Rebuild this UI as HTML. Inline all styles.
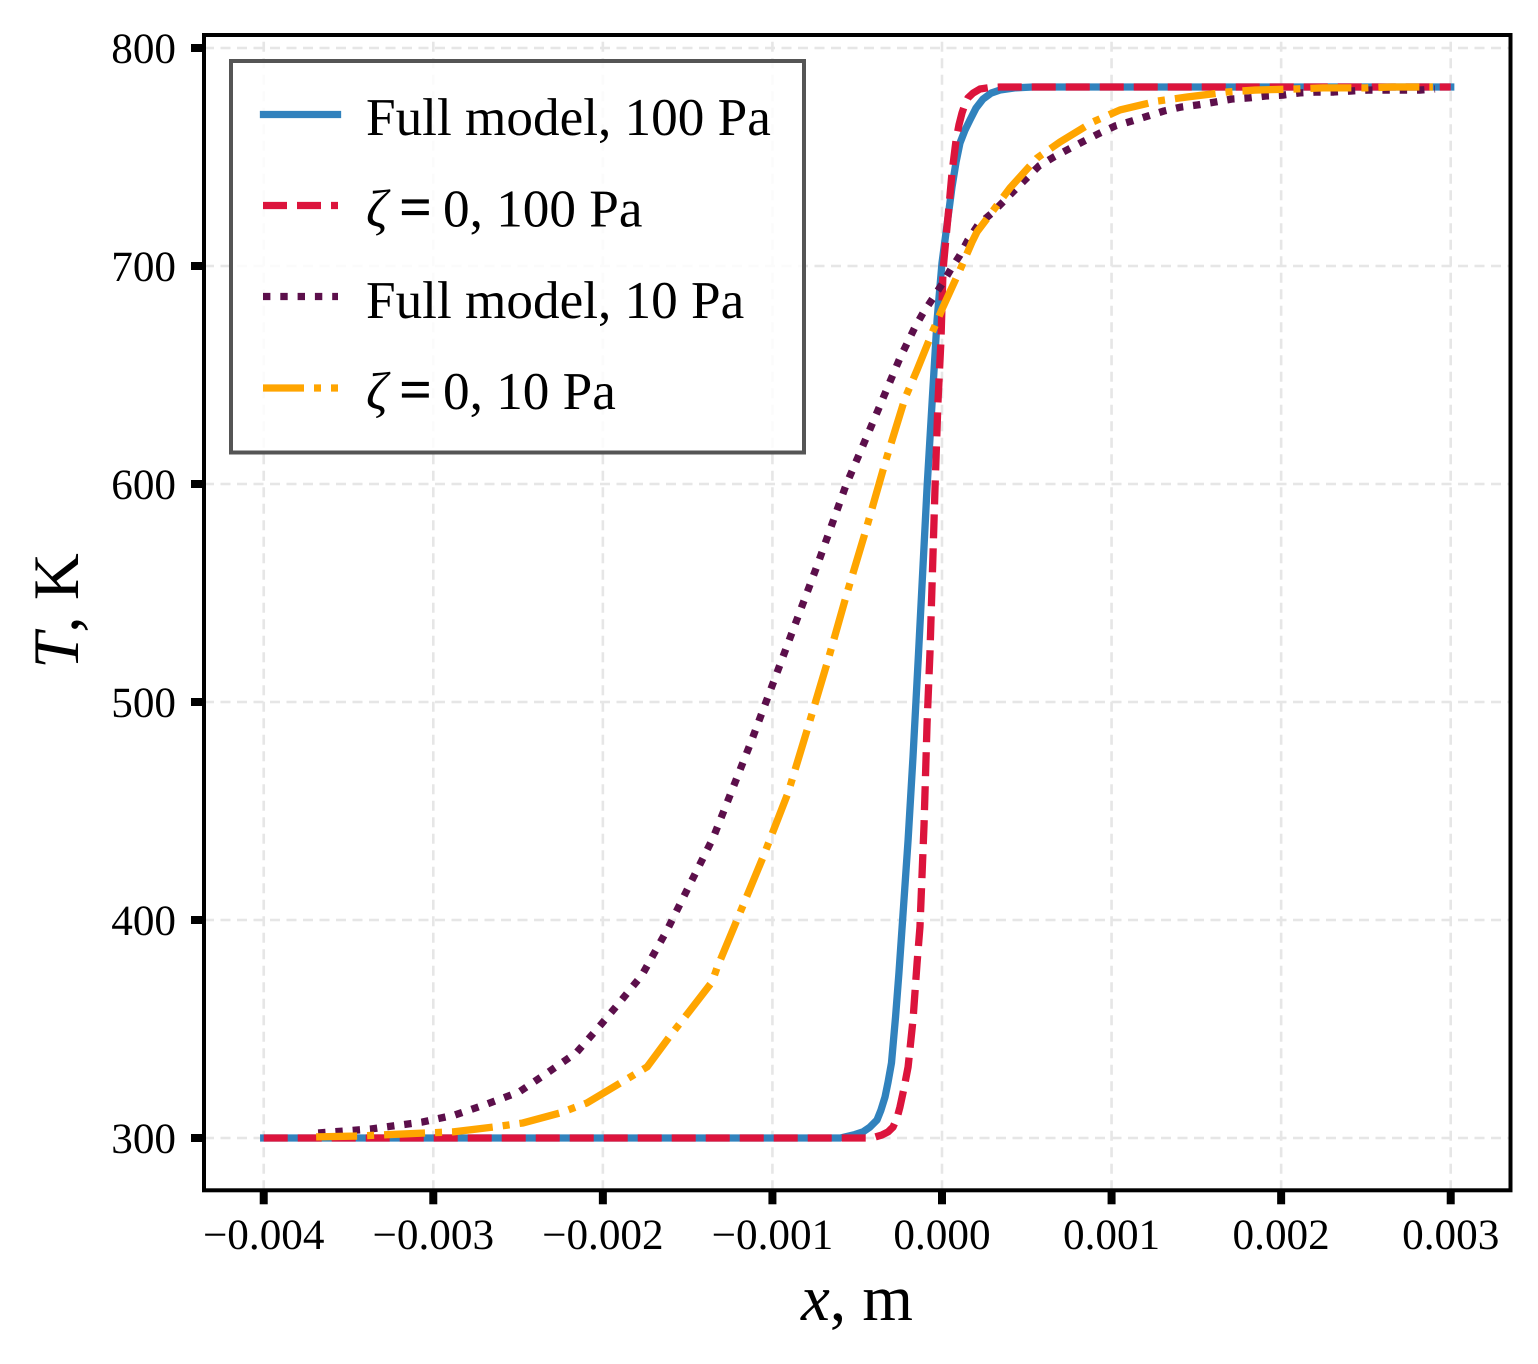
<!DOCTYPE html>
<html lang="en">
<head>
<meta charset="utf-8">
<title>Temperature profile T versus x</title>
<style>
  html, body { margin: 0; padding: 0; background: #ffffff; }
  svg { display: block; }
  text { font-family: "Liberation Serif", "DejaVu Serif", serif; fill: #000000; text-rendering: geometricPrecision; }
  .tick-label { font-size: 43.2px; }
  .legend-label { font-size: 53.2px; }
  .axis-title { font-size: 65px; }
  .legend-equals { font-size: 58px; font-weight: bold; }
</style>
</head>
<body>
<svg id="chart" xmlns="http://www.w3.org/2000/svg" width="1538" height="1364" viewBox="0 0 1538 1364">
  <rect x="0" y="0" width="1538" height="1364" fill="#ffffff"/>
  <g id="grid"></g>
  <g id="series"></g>
  <g id="axes"></g>

  <g>
    <rect x="231" y="61" width="573" height="391.5" fill="#ffffff" fill-opacity="0.82" stroke="#555555" stroke-width="4"/>
    <line x1="263.5" y1="114.5" x2="337.5" y2="114.5" stroke="#3182bd" stroke-width="7.3" stroke-linecap="square"/>
    <text class="legend-label" x="366" y="135">Full model, 100 Pa</text>
    <line x1="263" y1="205.5" x2="338" y2="205.5" stroke="#dc143c" stroke-width="7.3" stroke-dasharray="24 10"/>
    <text class="legend-label" y="226.5"><tspan x="366" font-style="italic">ζ</tspan><tspan x="399" class="legend-equals">=</tspan><tspan x="443">0, 100 Pa</tspan></text>
    <line x1="263" y1="296.5" x2="338" y2="296.5" stroke="#5c0f4b" stroke-width="7.3" stroke-dasharray="7.4 9.9"/>
    <text class="legend-label" x="366" y="318">Full model, 10 Pa</text>
    <line x1="263" y1="388" x2="338" y2="388" stroke="#ffa500" stroke-width="7.3" stroke-dasharray="41 10 7 10"/>
    <text class="legend-label" y="409"><tspan x="366" font-style="italic">ζ</tspan><tspan x="399" class="legend-equals">=</tspan><tspan x="443">0, 10 Pa</tspan></text>
  </g>

  <text class="axis-title" x="857" y="1320" text-anchor="middle"><tspan font-style="italic">x</tspan>, m</text>
  <text class="axis-title" transform="translate(78 611) rotate(-90)" text-anchor="middle"><tspan font-style="italic">T</tspan>, K</text>
</svg>

<script>
const xTickValues = [-0.004, -0.003, -0.002, -0.001, 0, 0.001, 0.002, 0.003];
const xTickLabels = ["−0.004", "−0.003", "−0.002", "−0.001", "0.000", "0.001", "0.002", "0.003"];
const yTickValues = [300, 400, 500, 600, 700, 800];
const yTickLabels = ["300", "400", "500", "600", "700", "800"];

const full100X = [-0.004, -0.0006, -0.00056, -0.000513, -0.000466, -0.000425, -0.000383, -0.00036, -0.000336, -0.000318, -0.000298, -0.000274, -0.000254, -0.000227, -0.0002, -0.000171, -0.000139, -0.000088, -0.000053, -0.000029, 0, 0.000059, 0.000083, 0.000106, 0.000136, 0.000165, 0.000201, 0.000242, 0.000289, 0.000342, 0.00043, 0.000537, 0.003];
const full100T = [300, 300, 300.7, 301.6, 302.8, 305, 308.3, 312.8, 318.8, 325.7, 334.4, 355.5, 375.7, 406, 436.7, 474.8, 521.6, 598.6, 644.5, 675.2, 701.4, 736.2, 747.7, 756.4, 762.4, 767, 772.5, 776.6, 779.3, 780.7, 781.7, 782.1, 782.1];

const zeta100X = [-0.004, -0.000413, -0.000354, -0.000318, -0.000289, -0.000265, -0.000248, -0.000224, -0.0002, -0.000171, -0.000147, -0.00013, -0.000106, -0.000088, -0.000071, -0.000041, -0.000024, -0.000006, 0.000006, 0.000024, 0.000041, 0.000059, 0.000083, 0.0001, 0.000118, 0.000136, 0.000153, 0.000183, 0.000224, 0.000283, 0.000342, 0.003];
const zeta100T = [300, 300, 301.4, 302.8, 305, 309.2, 314.2, 322.9, 332.6, 354.1, 380.3, 396.8, 443.6, 490.4, 522.5, 598.6, 637.2, 666.1, 698.2, 713.3, 727.1, 742.7, 757.8, 764.7, 770.2, 774.3, 777.1, 779.3, 781.2, 781.9, 782.1, 782.1];

const full10X = [-0.003679, -0.003373, -0.003066, -0.002871, -0.002683, -0.002494, -0.002329, -0.002158, -0.002028, -0.001899, -0.001769, -0.001621, -0.001486, -0.00135, -0.001238, -0.001126, -0.00102, -0.000914, -0.000737, -0.000566, -0.000407, -0.000248, -0.000159, -0.000112, -0.000053, 0, 0.000053, 0.000106, 0.000153, 0.000212, 0.000295, 0.00036, 0.00043, 0.000501, 0.000572, 0.00066, 0.000749, 0.000837, 0.000932, 0.00102, 0.00112, 0.001215, 0.001309, 0.001409, 0.001509, 0.00161, 0.00171, 0.00181, 0.00191, 0.002011, 0.002111, 0.002211, 0.002311, 0.002417, 0.002512, 0.002618, 0.002718, 0.002818, 0.002907];
const full10T = [302.3, 304.1, 307.3, 310.6, 315.6, 321.1, 329.8, 339, 350.5, 362.4, 374.8, 395.4, 416.5, 437.6, 459.6, 481.7, 503.7, 525.7, 562.4, 599.5, 628.4, 657.8, 672, 678.4, 685.3, 691.7, 698.6, 705, 711.9, 718.8, 724.3, 729.4, 734.9, 740.4, 745.9, 750, 753.7, 757.3, 761, 764.2, 766.5, 768.8, 771.1, 772.9, 773.9, 775.2, 776.6, 777.1, 778, 778.4, 779.4, 779.8, 779.8, 780.3, 780.7, 780.7, 780.7, 780.7, 781.2];

const zeta10X = [-0.003691, -0.003449, -0.003048, -0.002883, -0.002647, -0.002471, -0.002252, -0.002093, -0.001887, -0.001739, -0.001604, -0.001498, -0.001356, -0.001327, -0.001209, -0.001055, -0.000908, -0.00079, -0.000672, -0.00056, -0.000454, -0.000336, -0.000218, -0.000147, -0.000059, 0.000006, 0.000106, 0.000177, 0.000206, 0.000295, 0.000401, 0.00056, 0.000696, 0.00089, 0.00105, 0.001274, 0.001445, 0.00168, 0.001846, 0.002081, 0.002246, 0.002494, 0.002653, 0.002895];
const zeta10T = [300.5, 300.9, 302.3, 302.8, 305, 306.9, 311.5, 316.1, 325.7, 332.6, 346.8, 357.3, 371.6, 378, 400, 428.9, 458.3, 488.5, 519.3, 550, 577.5, 609.6, 639.4, 652.3, 669.3, 681.2, 698.2, 711, 715.6, 724.8, 735.8, 749.5, 756.9, 766.1, 771.6, 775.7, 777.5, 779.8, 780.7, 781.2, 781.7, 781.7, 782.1, 782.1];

const SVG_NS = "http://www.w3.org/2000/svg";
const plotLeft = 204, plotRight = 1510.5, plotTop = 35, plotBottom = 1190.3;

function xScale(v) { return 942 + v * 169570; }
function yScale(v) { return 1138 - (v - 300) * 2.18; }

function linePath(xs, ts) {
  return xs.map(function (x, i) {
    return (i ? "L" : "M") + xScale(x).toFixed(2) + " " + yScale(ts[i]).toFixed(2);
  }).join(" ");
}

const gridGroup = document.getElementById("grid");
const seriesGroup = document.getElementById("series");
const axesGroup = document.getElementById("axes");

xTickValues.forEach(function (v, i) {
  const gl = document.createElementNS(SVG_NS, "line");
  
  
  gl.setAttribute("x1", xScale(v)); gl.setAttribute("x2", xScale(v));
  gl.setAttribute("y1", plotBottom); gl.setAttribute("y2", plotTop);
  gl.setAttribute("stroke", "#e6e6e6"); gl.setAttribute("stroke-width", "2.6");
  gl.setAttribute("stroke-dasharray", "10 6.5");
  gridGroup.appendChild(gl);

  const tick = document.createElementNS(SVG_NS, "line");
  
  
  tick.setAttribute("x1", xScale(v)); tick.setAttribute("x2", xScale(v));
  tick.setAttribute("y1", plotBottom); tick.setAttribute("y2", plotBottom + 14);
  tick.setAttribute("stroke", "#000"); tick.setAttribute("stroke-width", "8");
  axesGroup.appendChild(tick);

  const label = document.createElementNS(SVG_NS, "text");
  
  
  label.setAttribute("class", "tick-label");
  label.setAttribute("x", xScale(v)); label.setAttribute("y", 1249);
  label.setAttribute("text-anchor", "middle");
  label.textContent = xTickLabels[i];
  axesGroup.appendChild(label);
});

yTickValues.forEach(function (v, i) {
  const gl = document.createElementNS(SVG_NS, "line");
  
  
  gl.setAttribute("x1", plotLeft); gl.setAttribute("x2", plotRight);
  gl.setAttribute("y1", yScale(v)); gl.setAttribute("y2", yScale(v));
  gl.setAttribute("stroke", "#e6e6e6"); gl.setAttribute("stroke-width", "2.6");
  gl.setAttribute("stroke-dasharray", "10 6.5");
  gridGroup.appendChild(gl);

  const tick = document.createElementNS(SVG_NS, "line");
  
  
  tick.setAttribute("x1", plotLeft - 13); tick.setAttribute("x2", plotLeft);
  tick.setAttribute("y1", yScale(v)); tick.setAttribute("y2", yScale(v));
  tick.setAttribute("stroke", "#000"); tick.setAttribute("stroke-width", "8");
  axesGroup.appendChild(tick);

  const label = document.createElementNS(SVG_NS, "text");
  
  
  label.setAttribute("class", "tick-label");
  label.setAttribute("x", 176); label.setAttribute("y", yScale(v) + 15);
  label.setAttribute("text-anchor", "end");
  label.textContent = yTickLabels[i];
  axesGroup.appendChild(label);
});

const spine = document.createElementNS(SVG_NS, "rect");


spine.setAttribute("x", plotLeft); spine.setAttribute("y", plotTop);
spine.setAttribute("width", plotRight - plotLeft); spine.setAttribute("height", plotBottom - plotTop);
spine.setAttribute("fill", "none"); spine.setAttribute("stroke", "#000"); spine.setAttribute("stroke-width", "4");
axesGroup.appendChild(spine);

const lineFull100 = document.createElementNS(SVG_NS, "path");


lineFull100.setAttribute("d", linePath(full100X, full100T));
lineFull100.setAttribute("fill", "none");
lineFull100.setAttribute("stroke", "#3182bd");
lineFull100.setAttribute("stroke-width", "7.3");
lineFull100.setAttribute("stroke-linecap", "square");
lineFull100.setAttribute("stroke-linejoin", "round");
seriesGroup.appendChild(lineFull100);

const lineZeta100 = document.createElementNS(SVG_NS, "path");


lineZeta100.setAttribute("d", linePath(zeta100X, zeta100T));
lineZeta100.setAttribute("fill", "none");
lineZeta100.setAttribute("stroke", "#dc143c");
lineZeta100.setAttribute("stroke-width", "7.3");
lineZeta100.setAttribute("stroke-dasharray", "24 10");
lineZeta100.setAttribute("stroke-linejoin", "round");
seriesGroup.appendChild(lineZeta100);

const lineFull10 = document.createElementNS(SVG_NS, "path");


lineFull10.setAttribute("d", linePath(full10X, full10T));
lineFull10.setAttribute("fill", "none");
lineFull10.setAttribute("stroke", "#5c0f4b");
lineFull10.setAttribute("stroke-width", "7.3");
lineFull10.setAttribute("stroke-dasharray", "7.4 9.9");
lineFull10.setAttribute("stroke-linejoin", "round");
seriesGroup.appendChild(lineFull10);

const lineZeta10 = document.createElementNS(SVG_NS, "path");


lineZeta10.setAttribute("d", linePath(zeta10X, zeta10T));
lineZeta10.setAttribute("fill", "none");
lineZeta10.setAttribute("stroke", "#ffa500");
lineZeta10.setAttribute("stroke-width", "7.3");
lineZeta10.setAttribute("stroke-dasharray", "41 10 7 10");
lineZeta10.setAttribute("stroke-linejoin", "round");
seriesGroup.appendChild(lineZeta10);
</script>
</body>
</html>
